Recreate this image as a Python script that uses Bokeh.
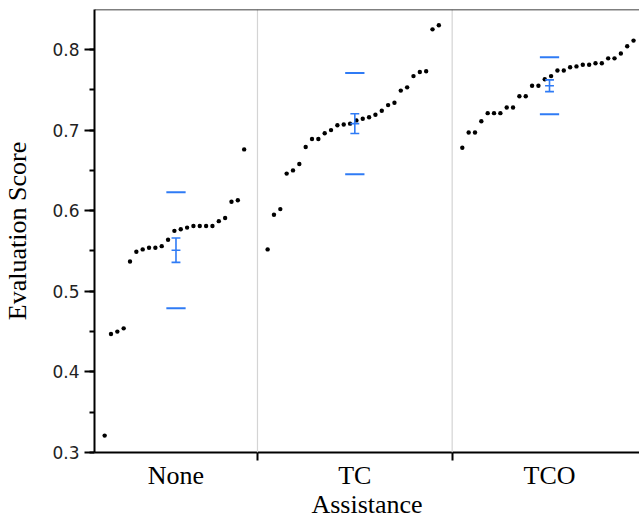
from bokeh.plotting import figure
from bokeh.models import Range1d, FixedTicker, SingleIntervalTicker, Span
from bokeh.embed import file_html
from bokeh.resources import INLINE

# ---- data ----
groups = ["None", "TC", "TCO"]
none_scores = [0.321, 0.447, 0.450, 0.454, 0.537, 0.549, 0.552, 0.554, 0.554,
               0.556, 0.564, 0.575, 0.577, 0.579, 0.581, 0.581, 0.581, 0.581,
               0.587, 0.591, 0.611, 0.613, 0.676]
tc_scores = [0.552, 0.595, 0.602, 0.646, 0.650, 0.658, 0.679, 0.689, 0.689,
             0.696, 0.700, 0.706, 0.707, 0.708, 0.712, 0.714, 0.716, 0.719,
             0.724, 0.731, 0.734, 0.749, 0.753, 0.767, 0.772, 0.773, 0.825,
             0.830]
tco_scores = [0.678, 0.697, 0.697, 0.711, 0.721, 0.721, 0.721, 0.728, 0.728,
              0.742, 0.742, 0.755, 0.755, 0.763, 0.767, 0.774, 0.774, 0.778,
              0.779, 0.781, 0.781, 0.783, 0.783, 0.789, 0.789, 0.795, 0.804,
              0.811]
means = [0.551, 0.708, 0.755]
std_devs = [0.072, 0.0627, 0.0354]
std_errs = [0.0151, 0.0122, 0.0073]

series = [none_scores, tc_scores, tco_scores]

# ---- layout of groups along a continuous x axis (one unit per point) ----
PAD_GROUP = 2.7
PAD_FIRST = 1.6
starts, centers = [], []
pos = 0.0
xs_all, ys_all = [], []
for vals in series:
    width = len(vals) + PAD_GROUP
    starts.append(pos)
    centers.append(pos + width / 2.0)
    for i, v in enumerate(sorted(vals)):
        xs_all.append(pos + PAD_FIRST + i)
        ys_all.append(v)
    pos += width
boundaries = starts[1:]

BLUE = "#2f7bf5"
Y_END = 0.8496

p = figure(width=639, height=521, output_backend="svg", toolbar_location=None,
           x_range=Range1d(0, 85.94), y_range=Range1d(0.3, Y_END),
           min_border_left=92, min_border_right=0, min_border_top=9,
           min_border_bottom=69)
p.outline_line_color = None
p.grid.visible = False
p.background_fill_color = "white"
p.border_fill_color = "white"

# group separators
for b in boundaries:
    p.add_layout(Span(location=b, dimension="height", line_color="#d4d4d4",
                      line_width=1.2))
# top border
p.add_layout(Span(location=Y_END, dimension="width", line_color="black",
                  line_width=1.5))

# points
p.scatter(xs_all, ys_all, size=4.4, color="black", line_color=None)

# SD lines
sd_half = 1.52
se_half = 0.7
for sign in (-1, 1):
    yv = [m + sign * s for m, s in zip(means, std_devs)]
    p.segment(x0=[c - sd_half for c in centers], x1=[c + sd_half for c in centers],
              y0=yv, y1=yv, line_color=BLUE, line_width=2)
# SE error bars
p.segment(x0=centers, x1=centers,
          y0=[m - s for m, s in zip(means, std_errs)],
          y1=[m + s for m, s in zip(means, std_errs)],
          line_color=BLUE, line_width=1.6)
for sign in (-1, 0, 1):
    yv = [m + sign * s for m, s in zip(means, std_errs)]
    p.segment(x0=[c - se_half for c in centers], x1=[c + se_half for c in centers],
              y0=yv, y1=yv, line_color=BLUE, line_width=1.6)

# y axis
yax = p.yaxis[0]
yax.ticker = SingleIntervalTicker(interval=0.1, num_minor_ticks=2)
yax.axis_label = "Evaluation Score"
yax.axis_label_text_font = "Liberation Serif"
yax.axis_label_text_font_style = "normal"
yax.axis_label_text_font_size = "26px"
yax.axis_label_text_color = "black"
yax.axis_label_standoff = 17
yax.major_label_text_font = "DejaVu Sans"
yax.major_label_text_font_size = "17px"
yax.major_label_text_color = "#222222"
yax.major_label_standoff = 5
yax.major_tick_in = 0
yax.major_tick_out = 10
yax.minor_tick_in = 0
yax.minor_tick_out = 5
yax.axis_line_width = 2
yax.major_tick_line_width = 2
yax.minor_tick_line_width = 2
yax.axis_line_color = "black"

# x axis
xax = p.xaxis[0]
xax.ticker = FixedTicker(ticks=centers, minor_ticks=boundaries)
xax.major_label_overrides = {c: g for c, g in zip(centers, groups)}
xax.major_label_text_font = "Liberation Serif"
xax.major_label_text_font_size = "26px"
xax.major_label_text_color = "black"
xax.major_label_standoff = 0
xax.major_tick_in = 0
xax.major_tick_out = 0
xax.minor_tick_in = 0
xax.minor_tick_out = 8
xax.minor_tick_line_width = 2
xax.axis_line_width = 2
xax.axis_line_color = "black"
xax.axis_label = "Assistance"
xax.axis_label_text_font = "Liberation Serif"
xax.axis_label_text_font_style = "normal"
xax.axis_label_text_font_size = "26px"
xax.axis_label_text_color = "black"
xax.axis_label_standoff = -3

open("out.html", "w").write(file_html(p, INLINE))
